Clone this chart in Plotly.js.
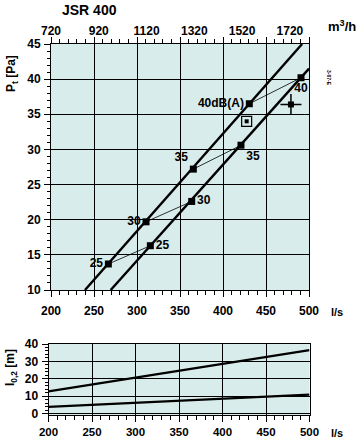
<!DOCTYPE html>
<html><head><meta charset="utf-8">
<script src="https://cdn.plot.ly/plotly-3.0.1.min.js"></script>
<style>html,body{margin:0;padding:0;background:#fff}#c{width:358px;height:440px}</style>
</head><body><div id="c"></div>
<script>
// ---- data ----
const title = "JSR 400";
const lineAFlow = [239.5, 492];      // l/s, upper sound line
const lineAPress = [10, 45];         // Pa
const lineBFlow = [269.4, 500];
const lineBPress = [10, 41.5];
const ptsAFlow = [266.7, 310.5, 365.5, 430.6];
const ptsAPress = [13.7, 19.7, 27.2, 36.5];
const ptsALabels = ["25", "30", "35", "40dB(A)"];
const ptsBFlow = [315.5, 363.6, 420.9, 490.7];
const ptsBPress = [16.3, 22.6, 30.6, 40.2];
const ptsBLabels = ["25", "30", "35", "40"];
const boxPt = {flow: [427.5], press: [34.0]};
const crossPt = {flow: [479], press: [36.4]};
const throwFlow = [200, 500];
const throwUpper = [12.8, 36.5];     // m
const throwLower = [3.9, 10.9];
const m3hTicks = [720, 920, 1120, 1320, 1520, 1720];

const F = "Liberation Sans, Arial, sans-serif";
const bg = "#d8edeb";
const traces = [];
// connecting thin lines between equal dB points
for (let i = 0; i < ptsAFlow.length; i++) {
  traces.push({x: [ptsAFlow[i], ptsBFlow[i]], y: [ptsAPress[i], ptsBPress[i]], mode: "lines",
    line: {color: "#000", width: 0.8}, xaxis: "x", yaxis: "y", hoverinfo: "skip"});
}
traces.push({x: lineAFlow, y: lineAPress, mode: "lines", line: {color: "#000", width: 2.4}, xaxis: "x", yaxis: "y"});
traces.push({x: lineBFlow, y: lineBPress, mode: "lines", line: {color: "#000", width: 2.4}, xaxis: "x", yaxis: "y"});
traces.push({x: ptsAFlow, y: ptsAPress, mode: "markers+text", text: ptsALabels,
  textposition: ["middle left", "middle left", "top left", "middle left"],
  textfont: {family: F, size: 12, color: "#000", weight: "bold"},
  marker: {symbol: "square", size: 7, color: "#000"}, xaxis: "x", yaxis: "y", cliponaxis: false});
traces.push({x: ptsBFlow, y: ptsBPress, mode: "markers+text", text: ptsBLabels,
  textposition: ["middle right", "middle right", "bottom right", "bottom center"],
  textfont: {family: F, size: 12, color: "#000", weight: "bold"},
  marker: {symbol: "square", size: 7, color: "#000"}, xaxis: "x", yaxis: "y", cliponaxis: false});
// symbols in top chart
traces.push({x: boxPt.flow, y: boxPt.press, mode: "markers", marker: {symbol: "square-open", size: 10, color: "#000", line: {width: 1.2}}, xaxis: "x", yaxis: "y"});
traces.push({x: boxPt.flow, y: boxPt.press, mode: "markers", marker: {symbol: "square", size: 4, color: "#000"}, xaxis: "x", yaxis: "y"});
traces.push({x: crossPt.flow, y: crossPt.press, mode: "markers", marker: {symbol: "cross-thin-open", size: 15, color: "#000", line: {width: 1.5, color: "#000"}}, xaxis: "x", yaxis: "y"});
traces.push({x: crossPt.flow, y: crossPt.press, mode: "markers", marker: {symbol: "square", size: 6, color: "#000"}, xaxis: "x", yaxis: "y"});
// top m3/h axis dummy trace
traces.push({x: [m3hTicks[0]], y: [10], mode: "markers", marker: {opacity: 0}, xaxis: "x2", yaxis: "y", hoverinfo: "skip"});
// throw chart
traces.push({x: throwFlow, y: throwUpper, mode: "lines", line: {color: "#000", width: 2.2}, xaxis: "x3", yaxis: "y3"});
traces.push({x: throwFlow, y: throwLower, mode: "lines", line: {color: "#000", width: 2.2}, xaxis: "x3", yaxis: "y3"});
// legend symbols right of throw chart
traces.push({x: [514], y: [36.5], mode: "markers", marker: {symbol: "square-open", size: 10, color: "#000", line: {width: 1.2}}, xaxis: "x3", yaxis: "y3", cliponaxis: false});
traces.push({x: [514], y: [36.5], mode: "markers", marker: {symbol: "square", size: 4, color: "#000"}, xaxis: "x3", yaxis: "y3", cliponaxis: false});
traces.push({x: [514], y: [10.9], mode: "markers", marker: {symbol: "cross-thin-open", size: 16, color: "#000", line: {width: 1.5, color: "#000"}}, xaxis: "x3", yaxis: "y3", cliponaxis: false});
traces.push({x: [514], y: [10.9], mode: "markers", marker: {symbol: "square", size: 7, color: "#000"}, xaxis: "x3", yaxis: "y3", cliponaxis: false});

const tf = {family: F, size: 12, color: "#000", weight: "bold"};
const tfs = {family: F, size: 11.5, color: "#000", weight: "bold"};
const W = 358, H = 440;
const layout = {
  width: W, height: H, margin: {l: 0, r: 0, t: 0, b: 0}, showlegend: false,
  paper_bgcolor: "#fff", plot_bgcolor: bg,
  xaxis: {domain: [51 / W, 309 / W], range: [200, 500], anchor: "y", tickvals: [200, 250, 300, 350, 400, 450, 500],
    ticks: "outside", ticklen: 6, tickwidth: 1, tickcolor: "#000", showline: true, linecolor: "#000", linewidth: 1,
    mirror: "allticks", showgrid: true, gridcolor: "#000", gridwidth: 1, zeroline: false, tickfont: tf, ticklabelstandoff: 4,
    minor: {dtick: 10, tick0: 200, ticks: "outside", ticklen: 4, tickcolor: "#000", showgrid: false}},
  xaxis2: {domain: [51 / W, 309 / W], range: [720, 1800], overlaying: "x", side: "top", anchor: "y", tickvals: m3hTicks,
    ticks: "", showgrid: false, showline: false, zeroline: false, tickfont: tf, ticklabelstandoff: 6},
  yaxis: {domain: [(H - 290) / H, (H - 44) / H], range: [10, 45], anchor: "x", dtick: 5, tick0: 10,
    ticks: "outside", ticklen: 6, tickcolor: "#000", showline: true, linecolor: "#000", linewidth: 1, mirror: true,
    showgrid: true, gridcolor: "#000", gridwidth: 1, zeroline: false, tickfont: tf, ticklabelstandoff: 1,
    minor: {dtick: 1, ticks: "outside", ticklen: 3, tickcolor: "#000", showgrid: false}},
  xaxis3: {domain: [48.5 / W, 309.5 / W], range: [200, 500], anchor: "y3", tickvals: [200, 250, 300, 350, 400, 450, 500],
    ticks: "outside", ticklen: 6, tickcolor: "#000", showline: true, linecolor: "#000", linewidth: 1, mirror: true,
    showgrid: true, gridcolor: "#000", gridwidth: 1, zeroline: false, tickfont: tfs, ticklabelstandoff: 0,
    minor: {dtick: 10, tick0: 200, ticks: "outside", ticklen: 4, tickcolor: "#000", showgrid: false}},
  yaxis3: {domain: [(H - 415) / H, (H - 344) / H], range: [-0.8, 40], anchor: "x3", tickvals: [0, 10, 20, 30, 40],
    ticks: "outside", ticklen: 6, tickcolor: "#000", showline: true, linecolor: "#000", linewidth: 1, mirror: true,
    showgrid: true, gridcolor: "#000", gridwidth: 1, zeroline: false, tickfont: tf, ticklabelstandoff: 1,
    minor: {dtick: 2, tick0: 0, ticks: "outside", ticklen: 3, tickcolor: "#000", showgrid: false}},
  annotations: [
    {text: "<b>" + title + "</b>", xref: "paper", yref: "paper", x: 89 / W, y: (H - 9.5) / H, xanchor: "center", yanchor: "middle", showarrow: false, font: {family: F, size: 14, color: "#000"}},
    {text: "<b>m<sup>3</sup>/h</b>", xref: "paper", yref: "paper", x: 342 / W, y: (H - 26) / H, xanchor: "center", yanchor: "middle", showarrow: false, font: {family: F, size: 13, color: "#000"}},
    {text: "<b>l/s</b>", xref: "paper", yref: "paper", x: 337 / W, y: (H - 312) / H, xanchor: "center", yanchor: "middle", showarrow: false, font: {family: F, size: 11, color: "#000"}},
    {text: "<b>l/s</b>", xref: "paper", yref: "paper", x: 337 / W, y: (H - 433) / H, xanchor: "center", yanchor: "middle", showarrow: false, font: {family: F, size: 11, color: "#000"}},
    {text: "<b>P<sub>t</sub> [Pa]</b>", xref: "paper", yref: "paper", x: 12 / W, y: (H - 74) / H, xanchor: "center", yanchor: "middle", textangle: -90, showarrow: false, font: {family: F, size: 12, color: "#000"}},
    {text: "<b>l<sub>0,2</sub> [m]</b>", xref: "paper", yref: "paper", x: 11 / W, y: (H - 368) / H, xanchor: "center", yanchor: "middle", textangle: -90, showarrow: false, font: {family: F, size: 12, color: "#000"}},
    {text: "<b>3-07-E</b>", xref: "paper", yref: "paper", x: 329 / W, y: (H - 78) / H, xanchor: "center", yanchor: "middle", textangle: 90, showarrow: false, font: {family: F, size: 5, color: "#000"}}
  ]
};
Plotly.newPlot("c", traces, layout, {staticPlot: true});
</script></body></html>
